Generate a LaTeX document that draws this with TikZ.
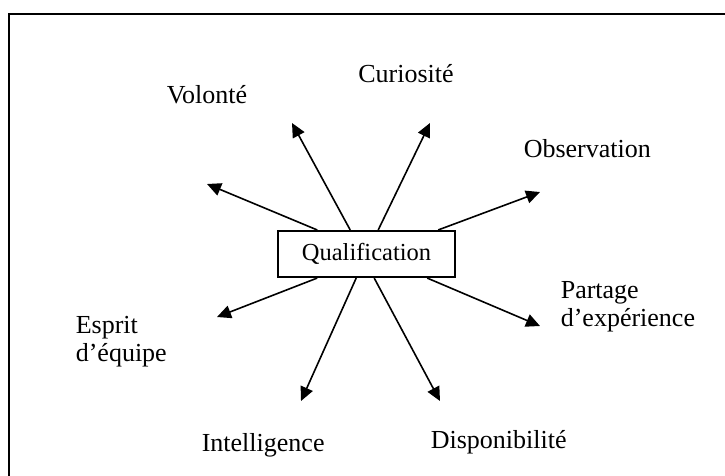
\documentclass[tikz,border=0pt]{standalone}
\usepackage{fontspec}
\setmainfont{Liberation Serif}
\usetikzlibrary{arrows.meta}

\begin{document}
\begin{tikzpicture}[x=1pt, y=-1pt, line width=1.6pt,
   main node/.style={draw, minimum width=177pt, minimum height=46.5pt, inner sep=0pt, font=\fontsize{24.5}{24.5}\selectfont},
   label node/.style={inner sep=0pt, align=left, font=\fontsize{26}{28}\selectfont},
   arr/.style={-{Triangle[length=14pt,width=13pt]}}]
   \useasboundingbox (0,0) rectangle (725,475);
   \draw (726,14) -- (9,14) -- (9,476);

   \node[main node] (q) at (366.5,254) {Qualification};

   \node[label node, anchor=base] (cur) at (406,82) {Curiosité};
   \node[label node, anchor=base west] (vol) at (166,103) {Volonté};
   \node[label node, anchor=base west] (obs) at (523,157) {Observation};
   \node[label node, anchor=base west] (par) at (560,326) {Partage\\d’expérience};
   \node[label node, anchor=base west] (esp) at (75,361) {Esprit\\d’équipe};
   \node[label node, anchor=base west] (int) at (201,451) {Intelligence};
   \node[label node, anchor=base west] (dis) at (430,448) {Disponibilité};

   \coordinate (t1) at (207,184);
   \coordinate (t2) at (292,123);
   \coordinate (t3) at (430,123);
   \coordinate (t4) at (540,192);
   \coordinate (t5) at (217,317);
   \coordinate (t6) at (301,401);
   \coordinate (t7) at (440,401);
   \coordinate (t8) at (540,326);

   \draw[arr] ([xshift=40pt]q.north west) -- (t1);
   \draw[arr] ([xshift=73pt]q.north west) -- (t2);
   \draw[arr] ([xshift=101pt]q.north west) -- (t3);
   \draw[arr] ([xshift=161pt]q.north west) -- (t4);
   \draw[arr] ([xshift=40pt]q.south west) -- (t5);
   \draw[arr] ([xshift=79pt]q.south west) -- (t6);
   \draw[arr] ([xshift=97pt]q.south west) -- (t7);
   \draw[arr] ([xshift=150pt]q.south west) -- (t8);
\end{tikzpicture}
\end{document}
